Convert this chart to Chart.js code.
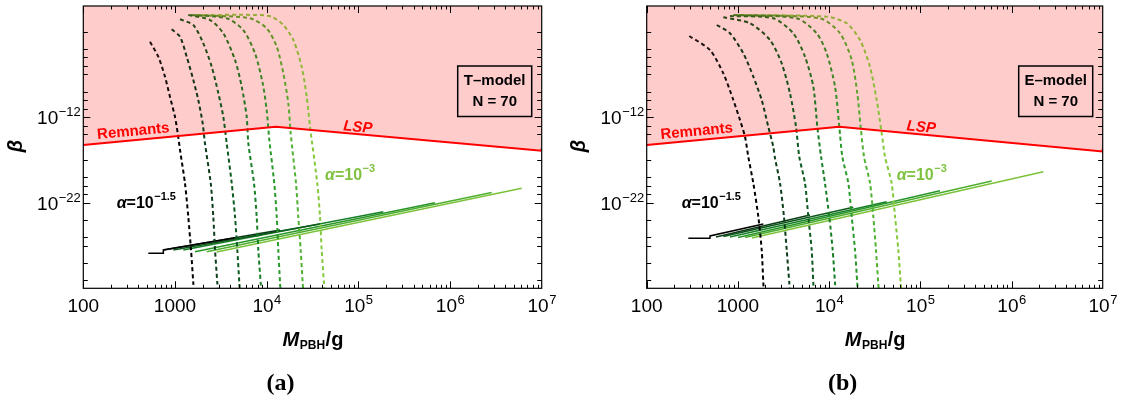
<!DOCTYPE html>
<html>
<head>
<meta charset="utf-8">
<script src="https://cdn.jsdelivr.net/npm/chart.js@4.4.1/dist/chart.umd.min.js"></script>
<style>
  body { margin: 0; background: #fff; }
  #wrap { position: relative; width: 1122px; height: 400px; }
  canvas { position: absolute; top: 0; }
</style>
</head>
<body>
<div id="wrap">
  <canvas id="chartT" width="561" height="400" style="left:0"></canvas>
  <canvas id="chartE" width="561" height="400" style="left:561px"></canvas>
</div>
<script>
// alpha = 10^alphaExp for the seven curves, darkest first
var alphaExp = [-1.5, -1.75, -2, -2.25, -2.5, -2.75, -3];

// axis ticks
var xTicks = [100, 1000, 1e4, 1e5, 1e6, 1e7];
var xTickText = ['100', '1000', '10^4', '10^5', '10^6', '10^7'];
var yTicks = [1e-12, 1e-22];
var yTickText = ['10^\u221212', '10^\u221222'];
var yMinorExp = [-2, -4, -5, -6, -7, -9, -10, -11, -13, -14, -17, -19, -20, -21, -24, -26, -27, -29, -31];

// everything below is log10(M/g) and log10(beta)

// Remnants / LSP bound, T-model
var tBoundLgM = [2, 4.10, 7, 7];
var tBoundLgB = [-15.25, -13.11, -15.91, -15.6];

// dashed curves, T-model
var tDashLgM = [
  [2.728, 2.818, 2.891, 2.945, 3.000, 3.030, 3.055, 3.109, 3.145, 3.175, 3.200, 3.207],
  [2.964, 3.055, 3.128, 3.200, 3.254, 3.302, 3.327, 3.390, 3.418, 3.437, 3.462, 3.467],
  [3.055, 3.200, 3.309, 3.401, 3.473, 3.527, 3.564, 3.619, 3.655, 3.680, 3.702, 3.707],
  [3.145, 3.382, 3.527, 3.655, 3.728, 3.782, 3.800, 3.862, 3.891, 3.909, 3.935, 3.940],
  [3.175, 3.564, 3.745, 3.873, 3.957, 4.000, 4.029, 4.083, 4.110, 4.127, 4.146, 4.151],
  [3.207, 3.818, 4.000, 4.110, 4.182, 4.236, 4.262, 4.320, 4.345, 4.371, 4.393, 4.399],
  [3.240, 3.891, 4.055, 4.182, 4.291, 4.382, 4.437, 4.473, 4.552, 4.582, 4.600, 4.625, 4.631]
];
var tDashLgB = [
  [-3.17, -4.93, -7.26, -9.60, -11.94, -13.88, -15.83, -19.72, -23.63, -27.52, -31.41, -32.2],
  [-1.72, -2.59, -4.93, -7.65, -9.99, -12.71, -15.05, -19.72, -23.63, -27.52, -31.41, -32.2],
  [-0.55, -1.22, -3.36, -6.10, -9.20, -11.94, -15.05, -19.72, -23.63, -27.52, -31.41, -32.2],
  [-0.05, -0.64, -2.19, -5.31, -8.43, -11.94, -15.05, -19.72, -23.63, -27.52, -31.41, -32.2],
  [-0.05, -0.44, -1.81, -4.53, -8.04, -11.16, -14.66, -19.72, -23.63, -27.52, -31.41, -32.2],
  [-0.05, -0.44, -1.61, -3.76, -6.87, -10.37, -13.88, -19.72, -23.63, -27.52, -31.41, -32.2],
  [-0.05, -0.05, -0.25, -1.22, -2.97, -6.10, -9.60, -13.11, -19.72, -23.63, -27.52, -31.41, -32.2]
];

// solid lines, T-model
var tLineLgM = [[2.709, 2.873, 2.873, 3.655], [2.873, 4.146], [2.982, 4.582], [3.091, 5.272], [3.218, 5.836], [3.346, 6.455], [3.455, 6.782]];
var tLineLgB = [[-27.91, -27.91, -27.52, -26.08], [-27.52, -25.18], [-27.52, -24.48], [-27.52, -23.04], [-27.72, -21.99], [-27.72, -20.80], [-27.76, -20.31]];

// Remnants / LSP bound, E-model
var eBoundLgM = [2, 4.112, 7, 7];
var eBoundLgB = [-15.25, -13.11, -16.0, -15.65];

// dashed curves, E-model
var eDashLgM = [
  [2.467, 2.694, 2.840, 2.950, 3.023, 3.078, 3.114, 3.169, 3.224, 3.261, 3.279, 3.284],
  [2.768, 2.913, 3.059, 3.169, 3.261, 3.333, 3.388, 3.407, 3.462, 3.505, 3.535, 3.564, 3.569],
  [2.840, 3.133, 3.352, 3.480, 3.571, 3.637, 3.673, 3.736, 3.772, 3.809, 3.827, 3.832],
  [2.913, 3.388, 3.607, 3.736, 3.827, 3.871, 3.912, 3.955, 4.002, 4.039, 4.065, 4.070],
  [2.950, 3.645, 3.864, 3.974, 4.065, 4.112, 4.145, 4.211, 4.248, 4.284, 4.309, 4.315],
  [2.987, 3.900, 4.120, 4.248, 4.309, 4.346, 4.383, 4.449, 4.485, 4.514, 4.539, 4.545],
  [3.023, 3.974, 4.193, 4.339, 4.448, 4.522, 4.577, 4.613, 4.686, 4.723, 4.759, 4.785, 4.791]
];
var eDashLgB = [
  [-2.51, -4.14, -6.87, -9.99, -12.33, -14.28, -16.62, -19.72, -23.63, -27.52, -31.41, -32.2],
  [-1.22, -2.19, -4.53, -7.26, -9.99, -13.11, -15.45, -16.80, -19.72, -23.63, -27.52, -31.41, -32.2],
  [-0.32, -1.02, -2.97, -5.70, -9.20, -13.11, -16.62, -19.72, -23.63, -27.52, -31.41, -32.2],
  [-0.17, -0.44, -2.19, -4.93, -8.43, -13.11, -16.62, -19.72, -23.63, -27.52, -31.41, -32.2],
  [-0.05, -0.44, -2.19, -4.53, -8.43, -13.11, -16.62, -19.72, -23.63, -27.52, -31.41, -32.2],
  [-0.05, -0.44, -2.19, -5.31, -9.20, -13.11, -16.62, -19.72, -23.63, -27.52, -31.41, -32.2],
  [-0.05, -0.25, -1.02, -2.97, -6.10, -9.99, -13.88, -16.62, -19.72, -23.63, -27.52, -31.41, -32.2]
];

// solid lines, E-model
var eLineLgM = [[2.456, 2.694, 2.694, 3.279], [2.760, 3.791], [2.840, 4.265], [2.913, 4.632], [3.001, 5.216], [3.078, 5.783], [3.155, 6.349]];
var eLineLgB = [[-26.15, -26.15, -25.88, -24.48], [-26.00, -23.43], [-25.94, -22.53], [-26.00, -21.88], [-26.06, -20.59], [-26.06, -19.46], [-26.12, -18.37]];

// colours, darkest alpha first
var dashTop = ['#2b1a16', '#1e2c12', '#2a4414', '#3b5a18', '#4e7220', '#6e8c26', '#97aa33'];
var dashBottom = ['#000000', '#0a3d18', '#0c5a1d', '#167e25', '#2a9a2b', '#4fb232', '#84c83c'];
var lineColor = ['#000000', '#0b3c18', '#0d5a1c', '#178026', '#2a962a', '#4fae30', '#7cc23a'];
var RED = 'rgb(255,0,0)';
var PINK = 'rgb(255,204,204)';

function pts(lgM, lgB) {
  return lgM.map(function (m, k) {
    return { x: Math.pow(10, m), y: Math.pow(10, lgB[k]) };
  });
}

function dashColor(i) {
  return function (c) {
    var a = c.chart.chartArea;
    if (!a) return dashBottom[i];
    var g = c.chart.ctx.createLinearGradient(0, a.top, 0, a.top + 135);
    g.addColorStop(0, dashTop[i]);
    g.addColorStop(1, dashBottom[i]);
    return g;
  };
}

// draws "base^exp" with the exponent raised; align: 'left' | 'center' | 'right'
function drawPow(ctx, text, x, y, font, supFont, rise, align) {
  var parts = text.split('^');
  ctx.font = font;
  var w1 = ctx.measureText(parts[0]).width;
  var w2 = 0;
  if (parts[1]) { ctx.font = supFont; w2 = ctx.measureText(parts[1]).width; }
  var x0 = x;
  if (align === 'center') x0 = x - (w1 + w2) / 2;
  if (align === 'right') x0 = x - (w1 + w2);
  ctx.textAlign = 'left';
  ctx.textBaseline = 'alphabetic';
  ctx.font = font;
  ctx.fillText(parts[0], x0, y);
  if (parts[1]) {
    ctx.font = supFont;
    ctx.fillText(parts[1], x0 + w1 + 0.5, y - rise);
  }
}

function drawAlpha(ctx, exp, x, y, color) {
  ctx.fillStyle = color;
  ctx.textAlign = 'left';
  ctx.textBaseline = 'alphabetic';
  ctx.font = 'italic bold 16px "Liberation Sans", Arial, sans-serif';
  ctx.fillText('\u03b1', x, y);
  var w = ctx.measureText('\u03b1').width;
  drawPow(ctx, '=10^' + exp, x + w, y, 'bold 16px "Liberation Sans", Arial, sans-serif',
    'bold 11px "Liberation Sans", Arial, sans-serif', 8, 'left');
}

var frameDeco = {
  id: 'frameDeco',
  afterDraw: function (chart, args, opts) {
    var ctx = chart.ctx, a = chart.chartArea;
    var xs = chart.scales.x, ys = chart.scales.y;
    ctx.save();

    // frame
    ctx.strokeStyle = '#000';
    ctx.lineWidth = 1.2;
    ctx.strokeRect(a.left, a.top, a.right - a.left, a.bottom - a.top);

    // ticks pointing inwards on all four sides
    ctx.lineWidth = 1;
    ctx.beginPath();
    for (var d = 2; d < 7; d++) {
      for (var k = 1; k <= 9; k++) {
        var v = k * Math.pow(10, d);
        var px = Math.round(xs.getPixelForValue(v)) + 0.5;
        var len = k === 1 ? 7 : 3.5;
        ctx.moveTo(px, a.bottom); ctx.lineTo(px, a.bottom - len);
        ctx.moveTo(px, a.top); ctx.lineTo(px, a.top + len);
      }
    }
    yTicks.forEach(function (v) {
      var py = Math.round(ys.getPixelForValue(v)) + 0.5;
      ctx.moveTo(a.left, py); ctx.lineTo(a.left + 7, py);
      ctx.moveTo(a.right, py); ctx.lineTo(a.right - 7, py);
    });
    yMinorExp.forEach(function (e) {
      var py = Math.round(ys.getPixelForValue(Math.pow(10, e))) + 0.5;
      ctx.moveTo(a.left, py); ctx.lineTo(a.left + 4.5, py);
      ctx.moveTo(a.right, py); ctx.lineTo(a.right - 4.5, py);
    });
    ctx.stroke();

    // tick labels
    ctx.fillStyle = '#000';
    var tf = '19px "Liberation Sans", Arial, sans-serif';
    var sf = '13px "Liberation Sans", Arial, sans-serif';
    xTicks.forEach(function (v, i) {
      drawPow(ctx, xTickText[i], xs.getPixelForValue(v), 312, tf, sf, 8, 'center');
    });
    yTicks.forEach(function (v, i) {
      var py = ys.getPixelForValue(v);
      drawPow(ctx, yTickText[i], a.left - 3, py + 7, tf, sf, 8, 'right');
    });

    // axis titles
    var cx = (a.left + a.right) / 2;
    ctx.font = 'italic bold 20px "Liberation Sans", Arial, sans-serif';
    var wM = ctx.measureText('M').width;
    ctx.font = 'bold 12px "Liberation Sans", Arial, sans-serif';
    var wS = ctx.measureText('PBH').width;
    ctx.font = 'bold 20px "Liberation Sans", Arial, sans-serif';
    var wG = ctx.measureText('/g').width;
    var x0 = cx - (wM + wS + wG) / 2;
    ctx.textAlign = 'left';
    ctx.font = 'italic bold 20px "Liberation Sans", Arial, sans-serif';
    ctx.fillText('M', x0, 346);
    ctx.font = 'bold 12px "Liberation Sans", Arial, sans-serif';
    ctx.fillText('PBH', x0 + wM + 0.5, 349);
    ctx.font = 'bold 20px "Liberation Sans", Arial, sans-serif';
    ctx.fillText('/g', x0 + wM + wS + 1, 346);

    ctx.save();
    ctx.translate(a.left - 67, 146);
    ctx.rotate(-Math.PI / 2);
    ctx.textAlign = 'center';
    ctx.textBaseline = 'middle';
    ctx.font = 'italic bold 20px "Liberation Sans", Arial, sans-serif';
    ctx.fillText('\u03b2', 0, 0);
    ctx.restore();

    // bound labels
    ctx.fillStyle = RED;
    ctx.textAlign = 'center';
    ctx.textBaseline = 'middle';
    ctx.save();
    ctx.translate(a.left + 50, 131.5);
    ctx.rotate(-5.4 * Math.PI / 180);
    ctx.font = 'bold 15px "Liberation Sans", Arial, sans-serif';
    ctx.fillText('Remnants', 0, 0);
    ctx.restore();
    ctx.save();
    ctx.translate(a.left + 274.5, 127.5);
    ctx.rotate(5 * Math.PI / 180);
    ctx.font = 'italic bold 15px "Liberation Sans", Arial, sans-serif';
    ctx.fillText('LSP', 0, 0);
    ctx.restore();

    // alpha labels
    drawAlpha(ctx, '\u22121.5', a.left + opts.a1x, 208.3, '#000');
    drawAlpha(ctx, '\u22123', a.left + opts.a3x, 179.5, '#7fc241');

    // model box
    ctx.strokeStyle = '#000';
    ctx.lineWidth = 1.5;
    var bx = a.right - 84, by = 66, bw = 74, bh = 50.5;
    ctx.strokeRect(bx, by, bw, bh);
    ctx.fillStyle = '#000';
    ctx.textAlign = 'center';
    ctx.textBaseline = 'middle';
    ctx.font = 'bold 15px "Liberation Sans", Arial, sans-serif';
    ctx.fillText(opts.model, bx + bw / 2, 81);
    ctx.fillText('N = 70', bx + bw / 2, 102);

    // panel caption
    ctx.font = 'bold 24px "Liberation Serif", "DejaVu Serif", serif';
    ctx.textBaseline = 'alphabetic';
    ctx.fillText(opts.caption, cx - 32, 390);

    ctx.restore();
  }
};

function makeChart(id, pad, bLgM, bLgB, dLgM, dLgB, sLgM, sLgB, deco) {
  var datasets = [{
    label: 'Remnants / LSP',
    data: pts(bLgM, bLgB),
    borderColor: RED,
    borderWidth: 2,
    backgroundColor: PINK,
    fill: 'end',
    tension: 0
  }];
  alphaExp.forEach(function (e, i) {
    datasets.push({
      label: 'alpha=10^' + e + ' (dashed)',
      data: pts(dLgM[i], dLgB[i]),
      borderColor: dashColor(i),
      borderWidth: 2,
      borderDash: [4, 3],
      tension: 0.25,
      fill: false
    });
  });
  alphaExp.forEach(function (e, i) {
    datasets.push({
      label: 'alpha=10^' + e,
      data: pts(sLgM[i], sLgB[i]),
      borderColor: lineColor[i],
      borderWidth: 1.5,
      tension: 0,
      fill: false
    });
  });

  return new Chart(document.getElementById(id), {
    type: 'line',
    data: { datasets: datasets },
    options: {
      responsive: false,
      animation: false,
      devicePixelRatio: 1,
      layout: { padding: pad },
      elements: { point: { radius: 0 } },
      scales: {
        x: { type: 'logarithmic', min: 100, max: 1e7, display: false },
        y: { type: 'logarithmic', min: 1e-32, max: 10, display: false }
      },
      plugins: {
        legend: { display: false },
        tooltip: { enabled: false },
        filler: { drawTime: 'beforeDatasetsDraw' },
        frameDeco: deco
      }
    },
    plugins: [frameDeco]
  });
}

makeChart('chartT', { left: 83.3, right: 19.3, top: 6, bottom: 111.7 },
  tBoundLgM, tBoundLgB, tDashLgM, tDashLgB, tLineLgM, tLineLgB,
  { model: 'T\u2013model', caption: '(a)', a1x: 33.4, a3x: 241.7 });

makeChart('chartE', { left: 85.7, right: 19.3, top: 6, bottom: 111.7 },
  eBoundLgM, eBoundLgB, eDashLgM, eDashLgB, eLineLgM, eLineLgB,
  { model: 'E\u2013model', caption: '(b)', a1x: 35, a3x: 250 });
</script>
</body>
</html>
